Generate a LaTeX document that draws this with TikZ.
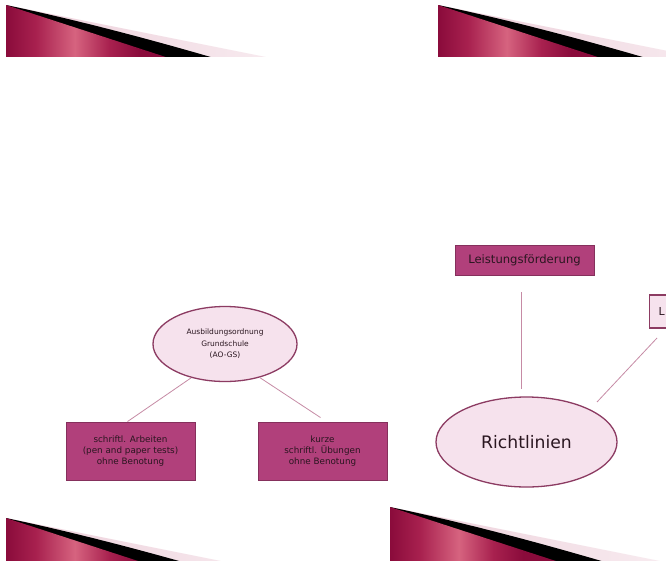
\documentclass[tikz,border=0pt]{standalone}
\usepackage{fontspec}
\setmainfont{DejaVu Sans}
\usetikzlibrary{shapes.geometric}
\definecolor{sdark}{HTML}{8A0B3B}
\definecolor{smid}{HTML}{A8214F}
\definecolor{slight}{HTML}{D6637F}
\definecolor{spink}{HTML}{EDCFDA}
\definecolor{boxfill}{HTML}{B1407B}
\definecolor{boxline}{HTML}{85305C}
\definecolor{ellfill}{HTML}{F6E2ED}
\definecolor{ellline}{HTML}{8C3B62}
\definecolor{conncol}{HTML}{C68BA5}
\definecolor{txt}{HTML}{2A1620}
\pgfdeclarehorizontalshading{swooshshade}{100bp}{color(0bp)=(sdark); color(25bp)=(sdark); color(32bp)=(smid); color(41bp)=(slight); color(49bp)=(smid); color(56bp)=(sdark); color(100bp)=(sdark)}
\newcommand\myswoosh[3]{%
  \begin{scope}
    \clip (#1,#2) rectangle ({#1+400},#3);
    \begin{scope}[shift={(#1,#2)}]
      \shade[left color=spink, right color=spink!25] (0,0) -- (350,70) -- (0,70) -- cycle;
      \fill[black] (0,0) .. controls (90,19) and (180,44) .. (265,70) -- (0,70) -- cycle;
      \shade[shading=swooshshade] (0,0) -- (215,70) -- (0,70) -- cycle;
    \end{scope}
  \end{scope}}
\tikzset{
  ellnode/.style={ellipse, draw=ellline, line width=1.3pt, fill=ellfill, text=txt, align=center, inner sep=0pt},
  boxnode/.style={rectangle, draw=boxline, line width=0.9pt, fill=boxfill, text=txt, align=center, inner sep=0pt},
  lightbox/.style={rectangle, draw=ellline, line width=1.3pt, fill=ellfill, text=txt, inner sep=0pt},
  conn/.style={draw=conncol, line width=0.8pt}
}
\begin{document}
\begin{tikzpicture}[x=1pt,y=-1pt]
\useasboundingbox (0,0) rectangle (666,560);
\begin{scope}
\clip (0,0) rectangle (666,560);
\fill[white] (0,0) rectangle (666,560);
\myswoosh{6}{5}{56}
\myswoosh{438}{5}{56}
\myswoosh{6}{518}{560}
\myswoosh{390}{507}{560}

\node[ellnode, minimum width=144pt, minimum height=75pt, font=\fontsize{7.5}{11.5}\selectfont] (ao) at (225,344) {Ausbildungsordnung\\Grundschule\\(AO-GS)};
\node[boxnode, minimum width=129pt, minimum height=58pt, font=\fontsize{8.8}{11}\selectfont] (b1) at (130.5,451) {schriftl. Arbeiten\\(pen and paper tests)\\ohne Benotung};
\node[boxnode, minimum width=129pt, minimum height=58pt, font=\fontsize{8.8}{11}\selectfont] (b2) at (322.5,451) {kurze\\schriftl. Übungen\\ohne Benotung};
\node[boxnode, minimum width=139pt, minimum height=30pt, font=\fontsize{11.6}{13}\selectfont] (lf) at (524.5,260) {Leistungsförderung};
\node[lightbox, anchor=west, minimum height=33pt, inner xsep=9pt, font=\fontsize{11}{12}\selectfont] (lb) at (649,311.5) {L};
\node[ellnode, minimum width=181pt, minimum height=90pt, font=\fontsize{17.2}{19}\selectfont] (rl) at (526.5,442) {Richtlinien};

\coordinate (d1) at (657,338);
\coordinate (d2) at (597,402);
\draw[conn] (ao.225) -- ([xshift=-3pt]b1.north);
\draw[conn] (ao.316) -- ([xshift=-2pt,yshift=4pt]b2.north);
\draw[conn] ([xshift=-3.5pt,yshift=-17pt]lf.south) -- ([xshift=-5.5pt,yshift=7pt]rl.north);
\draw[conn] (d1) -- (d2);
\end{scope}
\end{tikzpicture}
\end{document}
